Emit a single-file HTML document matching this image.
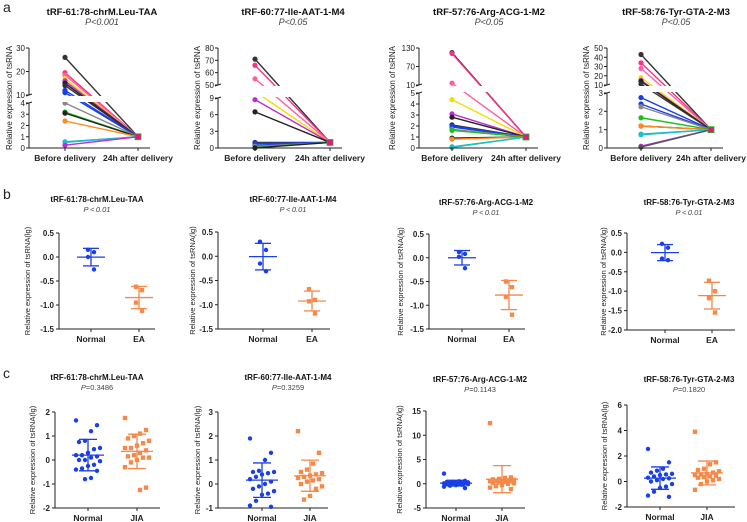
<!DOCTYPE html>
<html><head><meta charset="utf-8"><style>
html,body{margin:0;padding:0;background:#fff}
svg{display:block}
text{font-family:"Liberation Sans",sans-serif}
</style></head><body>
<svg id="fig" width="747" height="522" viewBox="0 0 747 522" xmlns="http://www.w3.org/2000/svg"></svg>
<script>
// ---------- Row a data (before-delivery values; after = 1) ----------
const aTitles=["tRF-61:78-chrM.Leu-TAA","tRF-60:77-Ile-AAT-1-M4","tRF-57:76-Arg-ACG-1-M2","tRF-58:76-Tyr-GTA-2-M3"];
const aPvals=["P<0.001","P<0.05","P<0.05","P<0.05"];
const aCats=["Before delivery","24h after delivery"];
const a1Before=[26,19.5,18.5,17,16,15,14,12,11,4,3.2,3.1,2.4,0.55,0.5,0.25];
const a2Before=[71,66,55,48,8.7,6.5,1.0,0.8,0.5,0.3,0.1,0.02];
const a3Before=[115,112,16,4.4,3.1,2.8,2.1,2.0,1.9,1.7,1.6,0.9,0.8,0.1,0.05];
const a4Before=[43,34,28,18,15,14,11,2.75,2.4,2.25,1.65,1.2,1.2,0.75,0.72,0.1,0.05];
const aAfter=1;
const a1Upper=[10,20,30], a1Lower=[0,1,2,3,4];
const a2Upper=[50,60,70,80], a2Lower=[0,3,6,9];
const a3Upper=[10,70,130], a3Lower=[0,1,2,3,4,5];
const a4Upper=[10,20,30,40,50], a4Lower=[0,1,2,3];
// ---------- Row b data ----------
const bPvals=["P\u202F<\u202F0.01","P\u202F<\u202F0.01","P\u202F<\u202F0.01","P\u202F<\u202F0.01"];
const bCats=["Normal","EA"];
const b1Normal=[0.15,0.10,0.0,-0.26], b1EA=[-0.62,-0.69,-0.95,-1.12];
const b2Normal=[0.30,0.13,-0.15,-0.31], b2EA=[-0.68,-0.90,-0.93,-1.18];
const b3Normal=[0.12,0.08,0.02,-0.22], b3EA=[-0.50,-0.62,-0.82,-1.20];
const b4Normal=[0.22,0.12,-0.16,-0.20], b4EA=[-0.73,-1.00,-1.18,-1.55];
const b1Ticks=[0.5,0,-0.5,-1,-1.5], b4Ticks=[0.5,0,-0.5,-1,-1.5,-2];
const bTickLabels123=["0.5","0.0","-0.5","-1.0","-1.5"], bTickLabels4=["0.5","0.0","-0.5","-1.0","-1.5","-2.0"];
// ---------- Row c data ----------
const cPvals=["0.3486","0.3259","0.1143","0.1820"];
const cCats=["Normal","JIA"];
const c1Normal=[1.65,1.45,1.2,0.8,0.75,0.5,0.45,0.3,0.2,0.2,0.15,0.1,0,0,-0.05,-0.2,-0.25,-0.35,-0.4,-0.45,-0.75,-0.8];
const c1JIA=[1.75,1.25,1.1,1.0,0.9,0.8,0.7,0.6,0.5,0.5,0.4,0.3,0.2,0.15,0.1,0.1,0,-0.1,-0.3,-1.15,-1.25];
const c2Normal=[1.9,1.3,1.0,0.55,0.5,0.5,0.45,0.4,0.3,0.2,0.1,0,-0.1,-0.2,-0.3,-0.4,-0.45,-0.7,-0.9,-0.95];
const c2JIA=[2.2,1.3,0.85,0.6,0.5,0.45,0.4,0.35,0.3,0.25,0.2,0.15,0.1,0,-0.1,-0.2,-0.5,-0.65];
const c3Normal=[2.1,0.6,0.5,0.4,0.4,0.3,0.3,0.2,0.2,0.1,0.1,0,0,-0.1,-0.1,-0.2,-0.3,-0.4,-0.6,-0.9];
const c3JIA=[12.5,1.3,1.2,1.0,0.9,0.8,0.7,0.6,0.6,0.5,0.5,0.4,0.3,0.2,0.1,0,-0.3,-0.5,-0.8,-1.1];
const c4Normal=[2.55,1.5,1.0,0.85,0.7,0.6,0.55,0.5,0.4,0.3,0.25,0.2,0.1,0,-0.2,-0.4,-0.5,-0.8,-1.1,-1.2];
const c4JIA=[3.9,1.5,1.35,1.0,0.9,0.8,0.7,0.6,0.55,0.5,0.45,0.4,0.35,0.3,0.2,0.1,0,-0.2,-0.65];
const c1Ticks=[2,1,0,-1,-2], c2Ticks=[3,2,1,0,-1], c3Ticks=[15,10,5,0,-5], c4Ticks=[6,4,2,0,-2];

const NS="http://www.w3.org/2000/svg";
const svg=document.getElementById('fig');
function el(tag,attrs,parent,txt){const e=document.createElementNS(NS,tag);for(const k in attrs)e.setAttribute(k,attrs[k]);if(txt!==undefined)e.textContent=txt;(parent||svg).appendChild(e);return e;}
function grp(name){const g=el('g',{});return g;}
const BLUE="#1a3ee8", ORANGE="#f5894a";
const lineColors=["#333","#ff2e8a","#ff5fa0","#f0e000","#c02bd6","#222","#333","#1a3ee8","#1a3ee8","#888","#19c219","#222","#ff8a1e","#11a89a","#19c2d6","#c02bd6","#555"];

function mean(a){return a.reduce((s,v)=>s+v,0)/a.length;}
function sd(a){const m=mean(a);return Math.sqrt(a.reduce((s,v)=>s+(v-m)*(v-m),0)/(a.length-1));}
function linScale(d0,d1,p0,p1){return v=>p0+(v-d0)/(d1-d0)*(p1-p0);}

function titles(g,cx,ty,title,ptxt,size,pNum){
  const t=el('text',{x:cx,y:ty,'text-anchor':'middle','font-size':size,'font-weight':'bold',fill:'#111'},g,title);
  
  const p=el('text',{x:cx,y:ty+10,'text-anchor':'middle','font-size':size-0.5,fill:'#444'},g);
  
  if(pNum){el('tspan',{'font-style':'italic'},p,'P');el('tspan',{},p,'='+ptxt);}
  else{el('tspan',{'font-style':'italic'},p,ptxt);}
}
function yTitle(g,x,y,txt,size){
  const t=el('text',{x:x,y:y,'text-anchor':'middle','font-size':size,fill:'#222',transform:`rotate(-90 ${x} ${y})`},g,txt);
  
}

// ---------- Row a ----------
function panelA(i,before,upper,lower,geom){
  const g=grp('panel-a'+(i+1));
  const {ax,uTop,uBot,lTop,lBot,cx0,cx1,tx,ylx}=geom;
  const uS=linScale(upper[0],upper[upper.length-1],uBot,uTop);
  const lS=linScale(lower[0],lower[lower.length-1],lBot,lTop);
  const y=v=> v>lower[lower.length-1] ? (v>=upper[0]?uS(v):(uBot+lTop)/2) : lS(v);
  titles(g,tx,15,aTitles[i],aPvals[i],9.5,false);
  yTitle(g,ylx,98,"Relative expression of tsRNA",8);
  before.forEach((v,k)=>{
    const c=lineColors[k%lineColors.length];
    const ln=el('line',{x1:cx0,y1:y(v),x2:cx1,y2:y(aAfter),stroke:c,'stroke-width':1.4},g);
    
    const m=el('circle',{cx:cx0,cy:y(v),r:2.6,fill:c},g);
    
  });
  el('rect',{x:ax+1,y:uBot+1,width:cx1-ax+15,height:lTop-uBot-2,fill:'#fff'},g);
  const sq=el('rect',{x:cx1-3,y:y(aAfter)-3,width:6,height:6,fill:'#e0168a',stroke:'#19c219','stroke-width':0.8},g);
  
  const axg=el('g',{stroke:'#222','stroke-width':1,fill:'none'},g);
  el('line',{x1:ax,y1:uTop,x2:ax,y2:uBot},axg);
  el('line',{x1:ax,y1:lTop,x2:ax,y2:lBot},axg);
  el('line',{x1:ax-3,y1:uBot+1,x2:ax+3,y2:uBot-1},axg);
  el('line',{x1:ax-3,y1:lTop+1,x2:ax+3,y2:lTop-1},axg);
  el('line',{x1:ax,y1:lBot,x2:cx1+12,y2:lBot},axg);
  [cx0,cx1].forEach(x=>el('line',{x1:x,y1:lBot,x2:x,y2:lBot+3},axg));
  upper.forEach(v=>{el('line',{x1:ax-3,y1:uS(v),x2:ax,y2:uS(v)},axg);el('text',{x:ax-4,y:uS(v)+3,'text-anchor':'end','font-size':8,fill:'#222',stroke:'none'},g,v);});
  lower.forEach(v=>{el('line',{x1:ax-3,y1:lS(v),x2:ax,y2:lS(v)},axg);el('text',{x:ax-4,y:lS(v)+3,'text-anchor':'end','font-size':8,fill:'#222',stroke:'none'},g,v);});
  [cx0,cx1].forEach((x,k)=>{const t=el('text',{x:x,y:lBot+13,'text-anchor':'middle','font-size':8.5,'font-weight':'bold','font-family':'Liberation Serif, serif',fill:'#222'},g,aCats[k]);});
}
panelA(0,a1Before,a1Upper,a1Lower,{ax:29,uTop:48,uBot:95,lTop:103,lBot:148,cx0:65,cx1:138,tx:102,ylx:12});
panelA(1,a2Before,a2Upper,a2Lower,{ax:218,uTop:48,uBot:85,lTop:98,lBot:148,cx0:255,cx1:330,tx:293,ylx:200});
panelA(2,a3Before,a3Upper,a3Lower,{ax:419,uTop:48,uBot:85,lTop:93,lBot:148,cx0:452,cx1:526,tx:489,ylx:395});
panelA(3,a4Before,a4Upper,a4Lower,{ax:607,uTop:48,uBot:85,lTop:93,lBot:148,cx0:641,cx1:711,tx:676,ylx:589});

// ---------- Scatter panels (rows b and c) ----------
function scatter(name,title,ptxt,pNum,groups,cats,ticks,tickLabels,geom,jitter){
  const g=grp(name);
  const {ax,top,bot,cx,tx,ty,ylx,xEnd}=geom;
  const y=linScale(ticks[0],ticks[ticks.length-1],top,bot);
  titles(g,tx,ty,title,ptxt,8,pNum);
  yTitle(g,ylx,(top+bot)/2,"Relative expression of tsRNA(lg)",7.5);
  const axg=el('g',{stroke:'#222','stroke-width':1},g);
  el('line',{x1:ax,y1:top,x2:ax,y2:bot},axg);
  el('line',{x1:ax,y1:bot,x2:xEnd,y2:bot},axg);
  ticks.forEach((v,k)=>{el('line',{x1:ax-3,y1:y(v),x2:ax,y2:y(v)},axg);
    const t=el('text',{x:ax-5,y:y(v)+3,'text-anchor':'end','font-size':8,'font-weight':'bold',fill:'#222'},g,tickLabels[k]);
    });
  groups.forEach((vals,gi)=>{
    const col=gi===0?BLUE:ORANGE, x0=cx[gi];
    el('line',{x1:x0,y1:bot,x2:x0,y2:bot+3},axg);
    const lt=el('text',{x:x0,y:bot+13,'text-anchor':'middle','font-size':8.5,'font-weight':'bold',fill:'#222'},g,cats[gi]);
    
    const m=mean(vals), s=sd(vals), hw=jitter?16:14, cw=jitter?9:8;
    const eg=el('g',{stroke:col,'stroke-width':1.3},g);
    
    el('line',{x1:x0-hw,y1:y(m),x2:x0+hw,y2:y(m)},eg);
    el('line',{x1:x0,y1:y(m+s),x2:x0,y2:y(m-s)},eg);
    el('line',{x1:x0-cw,y1:y(m+s),x2:x0+cw,y2:y(m+s)},eg);
    el('line',{x1:x0-cw,y1:y(m-s),x2:x0+cw,y2:y(m-s)},eg);
    vals.forEach((v,k)=>{
      const off=jitter?(((k*7)%9)-4)*3:(k%2?3:-3);
      let p;
      if(gi===0){p=el('circle',{cx:x0+off,cy:y(v),r:2.2,fill:col},g);}
      else{p=el('rect',{x:x0+off-2.2,y:y(v)-2.2,width:4.4,height:4.4,fill:col},g);}
      
      
    });
  });
}
// row b
scatter('panel-b1',aTitles[0],bPvals[0],false,[b1Normal,b1EA],bCats,b1Ticks,bTickLabels123,{ax:59,top:233,bot:329,cx:[91,139],tx:97,ty:202,ylx:30,xEnd:155},false);
scatter('panel-b2',aTitles[1],bPvals[1],false,[b2Normal,b2EA],bCats,b1Ticks,bTickLabels123,{ax:218,top:232,bot:329,cx:[263,312],tx:293,ty:202,ylx:195,xEnd:330},false);
scatter('panel-b3',aTitles[2],bPvals[2],false,[b3Normal,b3EA],bCats,b1Ticks,bTickLabels123,{ax:429,top:234,bot:329,cx:[462,509],tx:486,ty:205,ylx:403,xEnd:525},false);
scatter('panel-b4',aTitles[3],bPvals[3],false,[b4Normal,b4EA],bCats,b4Ticks,bTickLabels4,{ax:627,top:233,bot:330,cx:[665,712],tx:689,ty:205,ylx:606,xEnd:735},false);
// row c
scatter('panel-c1',aTitles[0],cPvals[0],true,[c1Normal,c1JIA],cCats,c1Ticks,c1Ticks.map(String),{ax:55,top:412,bot:508,cx:[88,137],tx:97,ty:380,ylx:35,xEnd:160},true);
scatter('panel-c2',aTitles[1],cPvals[1],true,[c2Normal,c2JIA],cCats,c2Ticks,c2Ticks.map(String),{ax:218,top:412,bot:508,cx:[262,310],tx:288,ty:380,ylx:200,xEnd:328},true);
scatter('panel-c3',aTitles[2],cPvals[2],true,[c3Normal,c3JIA],cCats,c3Ticks,c3Ticks.map(String),{ax:426,top:411,bot:508,cx:[456,502],tx:480,ty:382,ylx:402,xEnd:525},true);
scatter('panel-c4',aTitles[3],cPvals[3],true,[c4Normal,c4JIA],cCats,c4Ticks,c4Ticks.map(String),{ax:627,top:405,bot:507,cx:[660,707],tx:689,ty:382,ylx:607,xEnd:735},true);

// panel letters
[["a",3,12],["b",3,199],["c",3,378]].forEach(([l,x,yy])=>{const t=el('text',{x:x,y:yy,'font-size':14,fill:'#222'},svg,l);});
</script>
</body></html>
